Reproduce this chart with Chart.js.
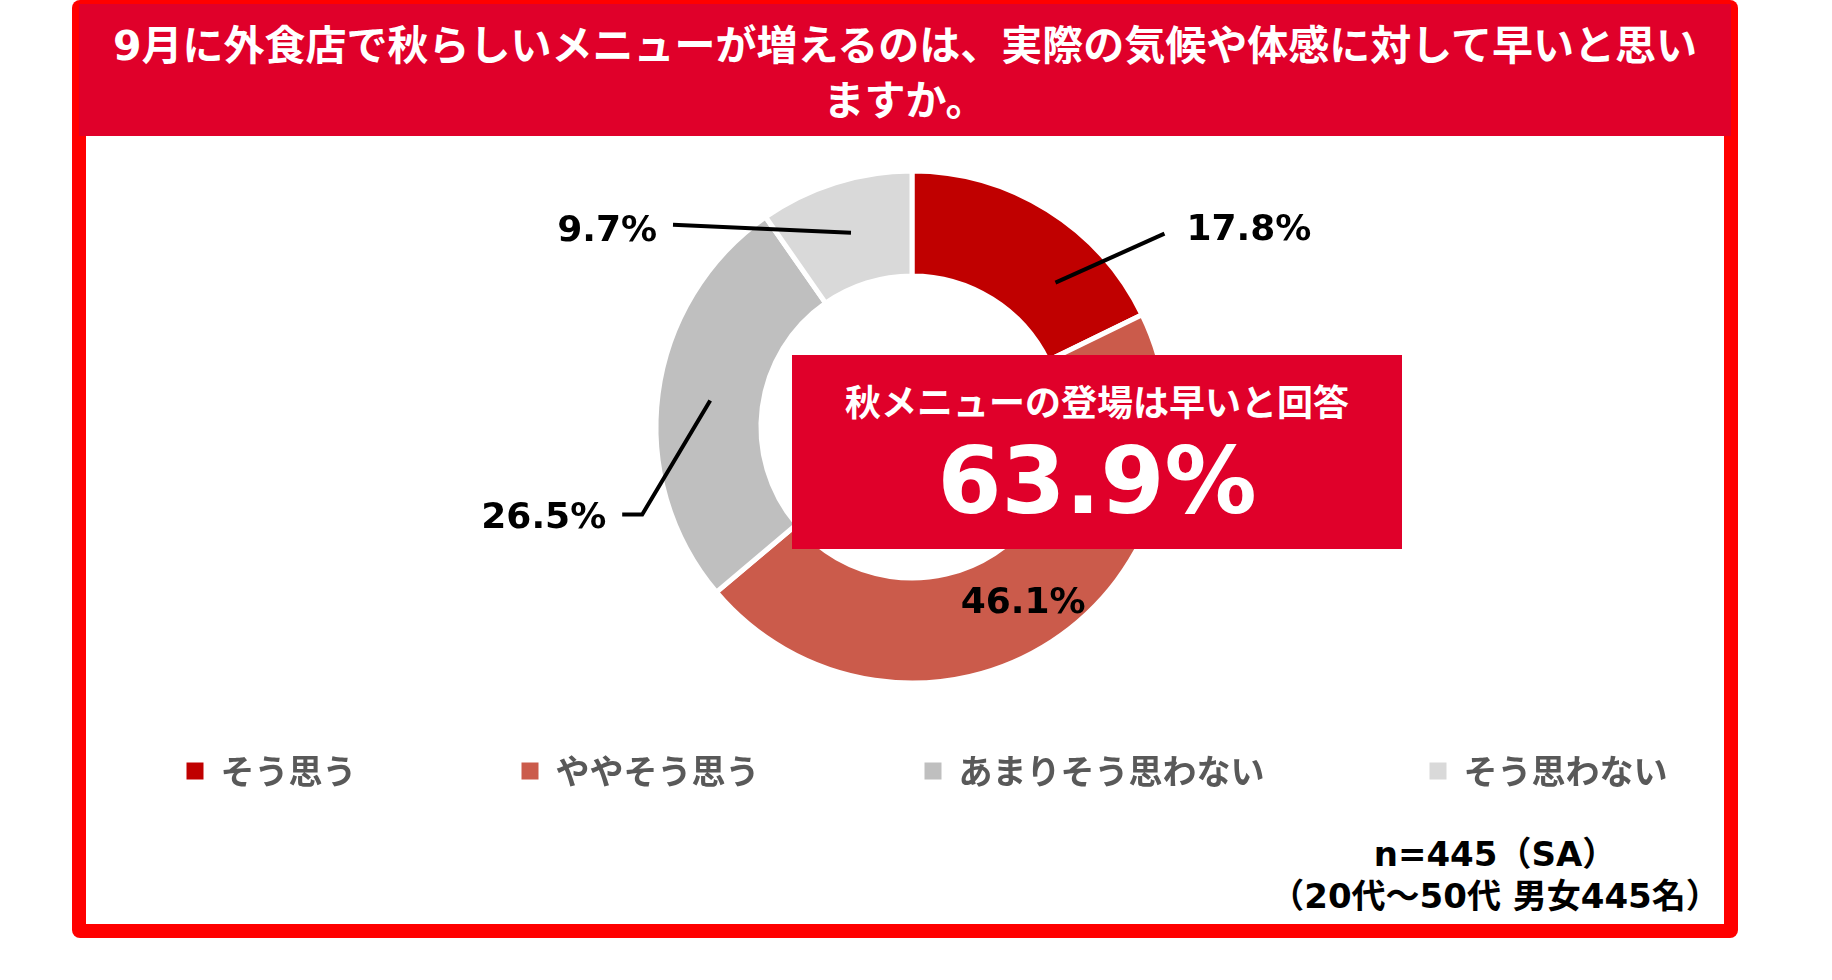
<!DOCTYPE html>
<html lang="ja">
<head>
<meta charset="utf-8">
<title>秋メニューの登場時期</title>
<script src="https://cdn.jsdelivr.net/npm/chart.js@4.4.1/dist/chart.umd.min.js"></script>
<style>
  html, body { margin: 0; padding: 0; width: 1832px; height: 980px; overflow: hidden; background: #fff; }
  body { position: relative; font-family: "Noto Sans CJK JP", sans-serif; }
  #frame { position: absolute; left: 72px; top: 0; width: 1666px; height: 938px; background: #ff0000; border-radius: 8px; }
  #inner { position: absolute; left: 86px; top: 136px; width: 1638px; height: 788px; background: #fff; }
  #title {
    position: absolute; left: 79px; top: 4px; width: 1652px; height: 132px; box-sizing: border-box;
    padding-top: 15px; background: #e0002a; color: #fff; text-align: center;
    font-family: "DejaVu Sans", "Noto Sans CJK JP", sans-serif;
    font-weight: 700; font-size: 41px; line-height: 55px; z-index: 3;
  }
  #chart { position: absolute; left: 2px; top: 0; width: 1850px; height: 800px; z-index: 1; }
  #callout { position: absolute; left: 792px; top: 355px; width: 610px; height: 194px; background: #e0002a; color: #fff; text-align: center; z-index: 3; }
  #callout .lead { position: absolute; left: 0; right: 0; top: 25px; font-size: 36px; line-height: 40px; font-weight: 700; }
  #callout .big { position: absolute; left: 0; right: 0; top: 77px; font-family: "DejaVu Sans", sans-serif; font-size: 92px; line-height: 100px; font-weight: 700; }
  #note {
    position: absolute; left: 1260px; top: 833px; width: 470px; text-align: center; color: #000;
    font-family: "DejaVu Sans", "Noto Sans CJK JP", sans-serif; font-weight: 700; font-size: 34px; line-height: 42px; z-index: 3;
  }
</style>
</head>
<body>
<div id="frame"></div>
<div id="inner"></div>
<div id="title">9月に外食店で秋らしいメニューが増えるのは、実際の気候や体感に対して早いと思い<br>ますか。</div>
<canvas id="chart" width="1850" height="800"></canvas>
<div id="callout">
  <div class="lead">秋メニューの登場は早いと回答</div>
  <div class="big" id="calloutValue"></div>
</div>
<div id="note">n=445（SA）<br>（20代～50代 男女445名）</div>

<script>
const answers = ['そう思う', 'ややそう思う', 'あまりそう思わない', 'そう思わない'];
const shares = [17.8, 46.1, 26.5, 9.7];
const sliceColors = ['#c00000', '#cb5b4b', '#bfbfbf', '#d9d9d9'];

// where each % label sits: point along the slice (0..1), leader bends and text offset from that point
const labelSpecs = [
  { at: 0.7, leader: [[109, -49]], text: [131, -52], align: 'left' },
  { at: 0.5, leader: [], text: [0, 6], align: 'center' },
  { at: 0.5, leader: [[-68, 114], [-88, 114]], text: [-104, 118], align: 'right' },
  { at: 0.5, leader: [[-178, -8]], text: [-194, -1], align: 'right' }
];

document.getElementById('calloutValue').textContent = (shares[0] + shares[1]).toFixed(1) + '%';

const sliceLabels = {
  id: 'sliceLabels',
  afterDatasetsDraw(chart) {
    const ctx = chart.ctx;
    const meta = chart.getDatasetMeta(0);
    ctx.save();
    ctx.font = 'bold 36px "DejaVu Sans"';
    ctx.fillStyle = '#000';
    ctx.strokeStyle = '#000';
    ctx.lineWidth = 4;
    ctx.textBaseline = 'middle';
    meta.data.forEach((arc, i) => {
      const p = arc.getProps(['x', 'y', 'startAngle', 'endAngle', 'innerRadius', 'outerRadius'], true);
      const spec = labelSpecs[i];
      const a = p.startAngle + (p.endAngle - p.startAngle) * spec.at;
      const r = (p.innerRadius + p.outerRadius) / 2;
      const ax = p.x + Math.cos(a) * r;
      const ay = p.y + Math.sin(a) * r;
      if (spec.leader.length) {
        ctx.beginPath();
        ctx.moveTo(ax, ay);
        spec.leader.forEach(([dx, dy]) => ctx.lineTo(ax + dx, ay + dy));
        ctx.stroke();
      }
      ctx.textAlign = spec.align;
      ctx.fillText(shares[i].toFixed(1) + '%', ax + spec.text[0], ay + spec.text[1]);
    });
    ctx.restore();
  }
};

new Chart('chart', {
  type: 'doughnut',
  data: {
    labels: answers,
    datasets: [{
      data: shares,
      backgroundColor: sliceColors,
      borderColor: '#ffffff',
      borderWidth: 5,
      clip: false
    }]
  },
  options: {
    responsive: false,
    animation: false,
    radius: 256,
    cutout: '59%',
    layout: { padding: { top: 265, bottom: 2, left: 0, right: 0 } },
    plugins: {
      tooltip: { enabled: false },
      // empty box on the right: pulls the ring a bit left of the legend's centre
      subtitle: {
        display: true,
        position: 'right',
        text: '',
        padding: 0,
        font: { size: 30, lineHeight: 1 }
      },
      legend: {
        position: 'bottom',
        labels: {
          color: '#595959',
          font: { family: '"Noto Sans CJK JP"', size: 34, weight: 'bold' },
          boxWidth: 17,
          boxHeight: 17,
          padding: 165,
          generateLabels: (chart) =>
            Chart.overrides.doughnut.plugins.legend.labels.generateLabels(chart)
              .map(item => ({ ...item, lineWidth: 0 }))
        }
      }
    }
  },
  plugins: [sliceLabels]
});
</script>
</body>
</html>
